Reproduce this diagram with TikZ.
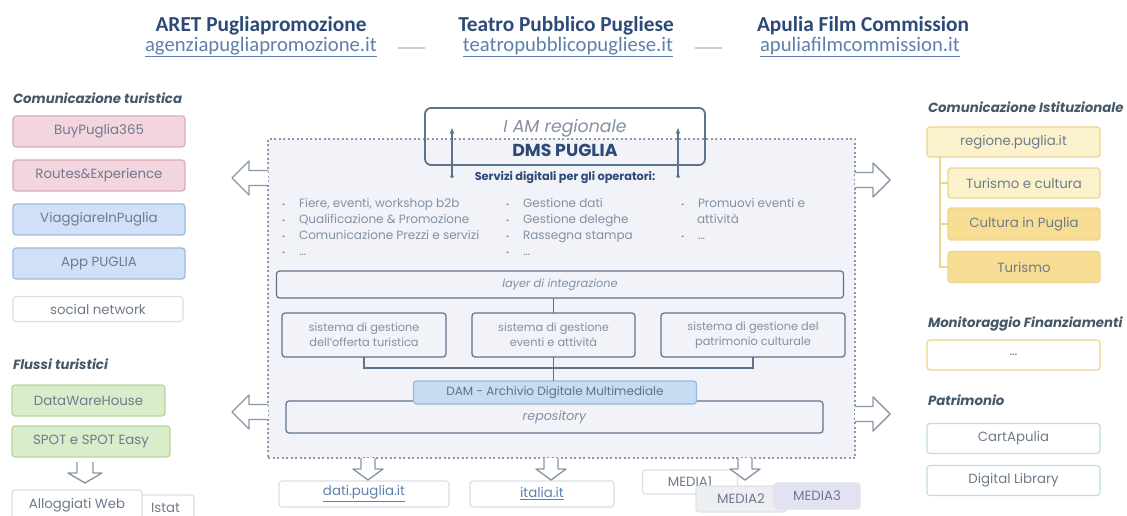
\documentclass[tikz,border=0pt]{standalone}
\usepackage{fontspec}
\setmainfont{Poppins}
\newfontfamily\headfont{Carlito}
\usetikzlibrary{arrows.meta,calc}

\definecolor{headblue}{HTML}{2C4A75}
\definecolor{urlblue}{HTML}{5F80AD}
\definecolor{secgray}{HTML}{445869}
\definecolor{tiletext}{HTML}{6E7B8B}
\definecolor{itemgray}{HTML}{8390A0}
\definecolor{pinkfill}{HTML}{F3D5DF}
\definecolor{pinkdraw}{HTML}{D9ABBB}
\definecolor{bluefill}{HTML}{D0E1F7}
\definecolor{bluedraw}{HTML}{9CB8DF}
\definecolor{greenfill}{HTML}{DAECCA}
\definecolor{greendraw}{HTML}{B6D59D}
\definecolor{palefill}{HTML}{FBF1CD}
\definecolor{yellowfill}{HTML}{F8DE94}
\definecolor{yellowdraw}{HTML}{EDD68C}
\definecolor{tealdraw}{HTML}{C0DCE6}
\definecolor{lightdraw}{HTML}{DCDFE5}
\definecolor{mainfill}{HTML}{F1F3F8}
\definecolor{maindash}{HTML}{8E98A6}
\definecolor{dmsline}{HTML}{5E728B}
\definecolor{damfill}{HTML}{C7DCF3}
\definecolor{damdraw}{HTML}{97B8DE}
\definecolor{media2fill}{HTML}{EDEEF2}
\definecolor{media3fill}{HTML}{E2E2F2}
\definecolor{arrowgray}{HTML}{8A96A5}

\newdimen\pxu \pxu=0.75pt

\tikzset{
	every node/.style={inner sep=0pt, outer sep=0pt},
	headtitle/.style={font=\headfont\bfseries\fontsize{16}{19}\selectfont, text=headblue},
	headurl/.style={font=\headfont\fontsize{15.5}{18}\selectfont, text=urlblue},
	sectitle/.style={anchor=west, font=\bfseries\itshape\fontsize{10}{12}\selectfont, text=secgray},
	tile/.style={rectangle, rounded corners=3\pxu, draw, line width=1.2\pxu, align=center,
		text=tiletext, font=\fontsize{10}{12}\selectfont},
	pinktile/.style={tile, fill=pinkfill, draw=pinkdraw, minimum width=172\pxu, minimum height=31\pxu},
	bluetile/.style={tile, fill=bluefill, draw=bluedraw, minimum width=172\pxu, minimum height=31\pxu},
	greentile/.style={tile, fill=greenfill, draw=greendraw, minimum height=31\pxu},
	whitetile/.style={tile, fill=white, draw=lightdraw},
	yellowtile/.style={tile, minimum height=31\pxu, draw=yellowdraw},
	righttile/.style={tile, fill=white, minimum width=173\pxu, minimum height=30\pxu},
	mainbox/.style={rectangle, fill=mainfill, draw=maindash, line width=1.2\pxu, dash pattern=on 2\pxu off 2.5\pxu},
	iambox/.style={rectangle, rounded corners=6\pxu, draw=dmsline, line width=1.8\pxu},
	dmstile/.style={tile, draw=dmsline, fill=mainfill, text=itemgray, font=\fontsize{8.5}{11}\selectfont},
	damtile/.style={tile, draw=damdraw, fill=damfill, text=dmsline, font=\fontsize{9}{11}\selectfont},
	item/.style={anchor=west, text=itemgray, font=\fontsize{9}{11}\selectfont, text height=6.5pt, text depth=1.5pt},
	dmsconn/.style={draw=dmsline, line width=1.2\pxu},
	uparrow/.style={draw=dmsline, line width=1.2\pxu, {Circle[length=2.5pt]}-{Stealth[length=4.5pt,width=3.5pt]}},
	treeline/.style={draw=yellowdraw, line width=1.2\pxu},
	sepline/.style={draw=lightdraw!80!gray, line width=2\pxu},
	arrowline/.style={draw=arrowgray, fill=white, line width=1.4\pxu, line join=round},
	pics/fatarrow/.style n args={4}{code={
		\filldraw[arrowline] (0,#4) -- ({#1-#2},#4) -- ({#1-#2},#3) -- (#1,0) -- ({#1-#2},-#3) -- ({#1-#2},-#4) -- (0,-#4);
	}},
}
\newcommand\bul{\makebox[12.75pt][l]{\fontsize{6}{6}\selectfont •}}

\begin{document}
\begin{tikzpicture}[x=0.75pt, y=-0.75pt]
	\useasboundingbox (0,0) rectangle (1127,516);

	% header
	\node[headtitle] (aret) at (261,26) {ARET Pugliapromozione};
	\node[headurl] (aretu) at (261,47) {\underline{agenziapugliapromozione.it}};
	\node[headtitle] (tpp) at (566,26) {Teatro Pubblico Pugliese};
	\node[headurl] (tppu) at (568,47) {\underline{teatropubblicopugliese.it}};
	\node[headtitle] (afc) at (863,26) {Apulia Film Commission};
	\node[headurl] (afcu) at (860,47) {\underline{apuliafilmcommission.it}};
	\draw[sepline] ($(aretu.east)!0.5!(tppu.west)$) +(-22,1) -- +(5,1);
	\draw[sepline] ($(tppu.east)!0.5!(afcu.west)$) +(-22,1) -- +(5,1);

	% left column
	\node[sectitle] (comtur) at (13,98) {Comunicazione turistica};
	\node[pinktile] (buy) at (99,131.5) {BuyPuglia365};
	\node[pinktile] (routes) at (99,175.5) {Routes\&Experience};
	\node[bluetile] (viag) at (99,219.5) {ViaggiareInPuglia};
	\node[bluetile] (app) at (99,263.5) {App PUGLIA};
	\node[whitetile, minimum width=170\pxu, minimum height=25\pxu] (social) at (98,309) {social network};
	\node[sectitle] (flussi) at (13,364) {Flussi turistici};
	\node[greentile, minimum width=153\pxu] (dwh) at (88.5,400.5) {DataWareHouse};
	\node[greentile, minimum width=158\pxu] (spot) at (91,441.5) {SPOT e SPOT Easy};
	\pic[rotate=-90] at (85,462) {fatarrow={21}{10}{17}{8}};
	\node[whitetile, minimum width=57\pxu, minimum height=26\pxu] (istat) at (165.5,508) {Istat};
	\node[whitetile, minimum width=130\pxu, minimum height=30\pxu] (allog) at (77,505) {Alloggiati Web};

	% DMS Puglia
	\node[mainbox, minimum width=587\pxu, minimum height=319\pxu] (dms) at (561.5,298.5) {};
	\node[iambox, minimum width=280\pxu, minimum height=57\pxu] (iam) at (565,136.5) {};
	\node[text=itemgray, font=\itshape\fontsize{13}{15}\selectfont] (iamt) at (565,128) {I AM regionale};
	\node[text=headblue, font=\bfseries\fontsize{13}{15}\selectfont] (dmst) at (565,150) {DMS PUGLIA};
	\node[text=headblue, font=\bfseries\fontsize{8.5}{10}\selectfont] (svc) at (565,178) {Servizi digitali per gli operatori:};
	\coordinate (upl) at (452,178);
	\coordinate (upr) at (678,178);
	\draw[uparrow] (upl) -- (upl |- iamt.center);
	\draw[uparrow] (upr) -- (upr |- iamt.center);

	\foreach \yy/\txt [count=\i] in {204/{Fiere, eventi, workshop b2b}, 220/{Qualificazione \& Promozione},
		236/{Comunicazione Prezzi e servizi}, 252/{…}}
		\node[item] (ita\i) at (282,\yy) {\bul\txt};
	\foreach \yy/\txt [count=\i] in {204/{Gestione dati}, 220/{Gestione deleghe}, 236/{Rassegna stampa}, 252/{…}}
		\node[item] (itb\i) at (506,\yy) {\bul\txt};
	\node[item] (itc1) at (681,204) {\bul Promuovi eventi e};
	\node[item] (itc2) at (697,220) {attività};
	\node[item] (itc3) at (681,236) {\bul …};

	\node[dmstile, minimum width=567\pxu, minimum height=27\pxu, font=\itshape\fontsize{8.5}{11}\selectfont] (layer) at (560,284.5) {layer di integrazione};
	\node[dmstile, minimum width=164\pxu, minimum height=44\pxu] (sub1) at (364,335) {sistema di gestione\\dell'offerta turistica};
	\node[dmstile, minimum width=163\pxu, minimum height=44\pxu] (sub2) at (553.5,335) {sistema di gestione\\eventi e attività};
	\node[dmstile, minimum width=184\pxu, minimum height=44\pxu] (sub3) at (753,335) {sistema di gestione del\\patrimonio culturale};
	\node[dmstile, minimum width=537\pxu, minimum height=32\pxu, font=\itshape\fontsize{9.5}{11}\selectfont] (repo) at (554.5,417) {repository};
	\node[damtile, minimum width=283\pxu, minimum height=23\pxu] (dam) at (555,392.5) {DAM - Archivio Digitale Multimediale};
	\draw[dmsconn] (layer.south -| sub2.north) -- (sub2.north);
	\draw[dmsconn] (sub1.south) -- ++(0,11) -| (sub3.south);
	\draw[dmsconn] (sub2.south) -- (sub2.south |- dam.north);

	% outputs
	\pic[rotate=180] at (268,178) {fatarrow={36}{17}{17}{7.5}};
	\pic[rotate=180] at (268,412) {fatarrow={36}{17}{17}{7.5}};
	\pic at (855,180) {fatarrow={35}{17}{17}{7.5}};
	\pic at (855,414) {fatarrow={35}{17}{17}{7.5}};

	\node[whitetile, minimum width=170\pxu, minimum height=26\pxu, text=urlblue] (dati) at (364,494) {\underline{dati.puglia.it}};
	\node[whitetile, minimum width=144\pxu, minimum height=26\pxu, text=urlblue] (italia) at (542,494) {\underline{italia.it}};
	\node[whitetile, minimum width=95\pxu, minimum height=24\pxu] (media1) at (690,482) {MEDIA1};
	\node[whitetile, fill=media2fill, draw=media2fill!90!gray, minimum width=90\pxu, minimum height=26\pxu] (media2) at (741,499) {MEDIA2};
	\node[whitetile, fill=media3fill, draw=media3fill, minimum width=86\pxu, minimum height=26\pxu] (media3) at (817,496) {MEDIA3};
	\pic[rotate=-90] at (368,458) {fatarrow={22}{11}{15}{7}};
	\pic[rotate=-90] at (551,458) {fatarrow={22}{11}{15}{7}};
	\pic[rotate=-90] at (745,458) {fatarrow={22}{11}{15}{7}};

	% right column
	\node[sectitle] (comist) at (928,107) {Comunicazione Istituzionale};
	\node[yellowtile, fill=palefill, minimum width=173\pxu, minimum height=30\pxu] (regione) at (1013.5,142) {regione.puglia.it};
	\node[yellowtile, fill=palefill, minimum width=152\pxu, minimum height=30\pxu] (tec) at (1024,183) {Turismo e cultura};
	\node[yellowtile, fill=yellowfill, minimum width=152\pxu, minimum height=32\pxu] (cip) at (1024,224) {Cultura in Puglia};
	\node[yellowtile, fill=yellowfill, minimum width=152\pxu, minimum height=31\pxu] (tur) at (1024,267) {Turismo};
	\coordinate (tree) at ($(regione.south west)+(13,0)$);
	\draw[treeline] (tree) -- (tree |- tur.west) -- (tur.west);
	\draw[treeline] (tree |- tec.west) -- (tec.west);
	\draw[treeline] (tree |- cip.west) -- (cip.west);

	\node[sectitle] (monit) at (928,324) {Monitoraggio Finanziamenti};
	\node[righttile, draw=yellowdraw] (fin) at (1013.5,355) {…};
	\node[sectitle] (patr) at (928,400) {Patrimonio};
	\node[righttile, draw=tealdraw] (cart) at (1013.5,438.5) {CartApulia};
	\node[righttile, draw=tealdraw] (diglib) at (1013.5,480.5) {Digital Library};

\end{tikzpicture}
\end{document}
